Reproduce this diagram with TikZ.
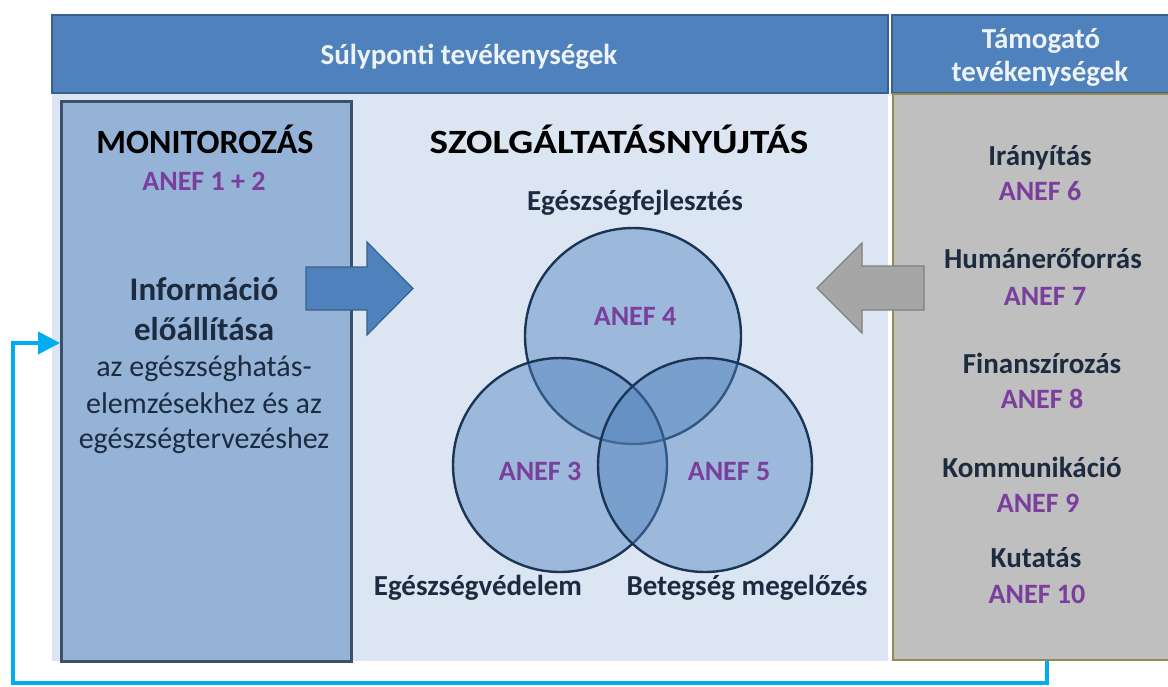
\documentclass[tikz,border=0pt]{standalone}
\usepackage{fontspec}
\setmainfont{Carlito}
\usetikzlibrary{arrows.meta}
\definecolor{hdrblue}{HTML}{4F81BD}
\definecolor{hdrborder}{HTML}{3A5F8C}
\definecolor{lightbg}{HTML}{DCE6F2}
\definecolor{monfill}{HTML}{95B3D7}
\definecolor{monborder}{HTML}{3A506B}
\definecolor{circborder}{HTML}{1B3556}
\definecolor{grayfill}{HTML}{BFBFBF}
\definecolor{olive}{HTML}{938953}
\definecolor{arrgray}{HTML}{A6A6A6}
\definecolor{arrgrayb}{HTML}{808080}
\definecolor{cyanline}{HTML}{00AEEF}
\definecolor{anefpurple}{HTML}{7A3E9D}
\definecolor{navytext}{HTML}{1C2B3F}
\definecolor{hdrtext}{HTML}{EEF3F8}
\tikzset{
  hdrbox/.style={fill=hdrblue, draw=hdrborder, line width=1.5pt},
  hdrlabel/.style={text=hdrtext, font=\fontsize{29}{33}\selectfont\bfseries, anchor=base, inner sep=0pt},
  circ/.style={circle, fill=hdrblue, fill opacity=0.45, draw=circborder, draw opacity=1, line width=2.4pt, inner sep=0pt},
  anef/.style={text=anefpurple, font=\fontsize{28}{32}\selectfont\bfseries, anchor=base, inner sep=0pt},
  toplabel/.style={text=navytext, font=\fontsize{29}{33}\selectfont\bfseries, anchor=base, inner sep=0pt},
  bodytext/.style={text=navytext, font=\fontsize{30}{34}\selectfont, anchor=base, inner sep=0pt},
  bigbody/.style={text=navytext, font=\fontsize{33}{37}\selectfont\bfseries, anchor=base, inner sep=0pt},
  supp/.style={text=navytext, font=\fontsize{29}{33}\selectfont\bfseries, anchor=base, inner sep=0pt},
}
\begin{document}
\begin{tikzpicture}[x=1pt,y=-1pt]
\useasboundingbox (0,0) rectangle (1168,686);
\clip (0,0) rectangle (1168,686);
% backgrounds
\fill[lightbg] (52,93) rectangle (888,661);
\draw[hdrbox] (52,15) rectangle (888,93);
\draw[hdrbox] (892,15) rectangle (1190,93);
\node[hdrlabel] (h1) at (469,64) {Súlyponti tevékenységek};
\node[hdrlabel] (h2a) at (1041,48) {Támogató};
\node[hdrlabel] (h2b) at (1040,81) {tevékenységek};
% support box
\node[draw=olive, fill=grayfill, line width=2pt, minimum width=298pt, minimum height=566pt, anchor=north west, inner sep=0pt] (support) at (892,93) {};
% monitor box
\node[draw=monborder, fill=monfill, line width=2.5pt, minimum width=290pt, minimum height=560pt, anchor=north west, inner sep=0pt] (monitor) at (60,100) {};
\node[text=black, font=\fontsize{34}{38}\selectfont\bfseries, anchor=base, inner sep=0pt] (mon) at (205,153) {MONITOROZÁS};
\node[anef] (a12) at (204,190) {ANEF 1 + 2};
\node[bigbody] (info1) at (204,300) {Információ};
\node[bigbody] (info2) at (204,340) {előállítása};
\node[bodytext] (b1) at (204,376) {az egészséghatás-};
\node[bodytext] (b2) at (204,413) {elemzésekhez és az};
\node[bodytext] (b3) at (204,448) {egészségtervezéshez};
% central title
\node[text=black, font=\fontsize{34}{38}\selectfont\bfseries, anchor=base, inner sep=0pt, xscale=1.15] (szolg) at (619,153) {SZOLGÁLTATÁSNYÚJTÁS};
% circles
\node[circ, minimum size=216pt] (c4) at (633,336) {};
\node[circ, minimum size=214pt] (c3) at (560,465) {};
\node[circ, minimum size=214pt] (c5) at (705,465) {};
\node[anef] (a4) at (635,325) {ANEF 4};
\node[anef] (a3) at (540,480) {ANEF 3};
\node[anef] (a5) at (729,480) {ANEF 5};
\node[toplabel] (l4) at (635,210) {Egészségfejlesztés};
\node[toplabel] (l3) at (478,595) {Egészségvédelem};
\node[toplabel] (l5) at (747,595) {Betegség megelőzés};
% arrows
\draw[fill=hdrblue, draw=hdrborder, line width=1.2pt] (306,267) -- (367,267) -- (367,242) -- (413,288.5) -- (367,335) -- (367,310) -- (306,310) -- cycle;
\draw[fill=arrgray, draw=arrgrayb, line width=1.2pt] (924,266) -- (862,266) -- (862,243) -- (817,288) -- (862,333) -- (862,310) -- (924,310) -- cycle;
% support texts
\node[supp] (s6) at (1040,165) {Irányítás};
\node[anef] (a6) at (1040,200) {ANEF 6};
\node[supp] (s7) at (1043,268) {Humánerőforrás};
\node[anef] (a7) at (1045,305) {ANEF 7};
\node[supp] (s8) at (1042,373) {Finanszírozás};
\node[anef] (a8) at (1042,408) {ANEF 8};
\node[supp] (s9) at (1032,477) {Kommunikáció};
\node[anef] (a9) at (1038,512) {ANEF 9};
\node[supp] (s10) at (1036,567) {Kutatás};
\node[anef] (a10) at (1037,603) {ANEF 10};
% feedback connector
\coordinate (fb) at (1047,683);
\coordinate (fl) at (13,683);
\coordinate (ft) at (13,343);
\draw[cyanline, line width=4pt, -{Triangle[length=22pt,width=22pt]}] (support.south -| fb) -- (fb) -- (fl) -- (ft) -- (ft -| monitor.west);
\end{tikzpicture}
\end{document}
